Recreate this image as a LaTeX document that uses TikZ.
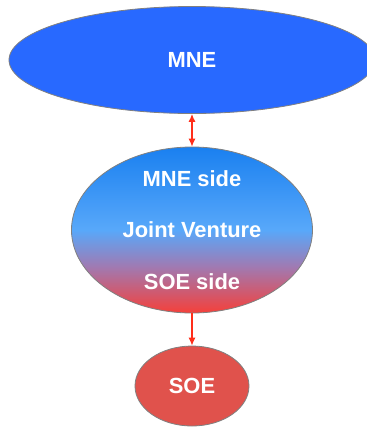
\documentclass[tikz,border=0pt]{standalone}
\usepackage{fontspec}
\setmainfont{Liberation Sans}
\usetikzlibrary{shapes.geometric,arrows.meta}
\definecolor{mneblue}{HTML}{2869FF}
\definecolor{soered}{HTML}{E0524C}
\definecolor{jvblue}{HTML}{1A80F0}
\definecolor{jvlight}{HTML}{58A8FA}
\definecolor{jvpurple}{HTML}{A07AB2}
\definecolor{jvred}{HTML}{F5403A}
\definecolor{linkred}{HTML}{FF2E1A}
\pgfdeclareverticalshading{jvshade}{100bp}{color(0bp)=(jvred); color(25bp)=(jvred); color(39bp)=(jvpurple); color(50bp)=(jvlight); color(75bp)=(jvblue); color(100bp)=(jvblue)}
\tikzset{
  blob/.style={ellipse, draw=gray, line width=0.8bp, text=white, inner sep=0pt},
  link/.style={draw=linkred, line width=1.2bp},
  tip/.tip={Latex[length=8bp,width=7bp]}
}
\begin{document}
\begin{tikzpicture}[x=1bp, y=-1bp, font=\bfseries\fontsize{22}{25}\selectfont]
\useasboundingbox (0,0) rectangle (367,427);
\node (mne) at (192,60) [blob, fill=mneblue, minimum width=366bp, minimum height=107bp] {MNE};
\node (jv) [below of=mne, node distance=170bp, blob, shade, shading=jvshade, minimum width=241bp, minimum height=166bp] {Joint Venture};
\node (mneside) [above of=jv, node distance=51bp, text=white] {MNE side};
\node (soeside) [below of=jv, node distance=52bp, text=white] {SOE side};
\node (soe) [below of=jv, node distance=156bp, blob, fill=soered, minimum width=114bp, minimum height=80bp] {SOE};
\draw [link, tip-tip] (mne) -- (jv);
\draw [link, -tip] (jv) -- (soe);
\end{tikzpicture}
\end{document}
